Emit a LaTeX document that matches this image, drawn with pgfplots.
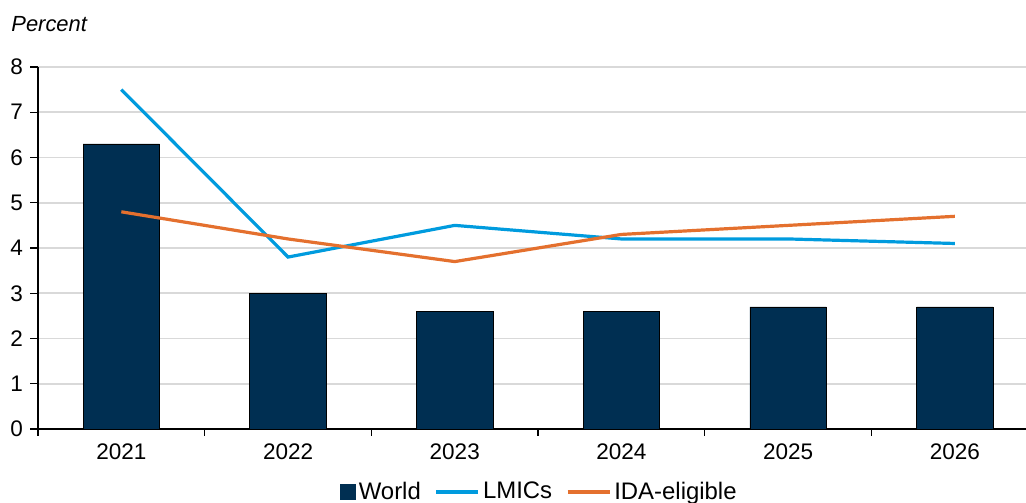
\documentclass[border=0pt]{standalone}
\usepackage{pgfplots}
\pgfplotsset{compat=1.18}
\usepackage{fontspec}
\setmainfont{Liberation Sans}
\definecolor{navy}{HTML}{002F52}
\definecolor{lblue}{HTML}{009BDE}
\definecolor{orng}{HTML}{E4702E}
\definecolor{gridg}{HTML}{D9D9D9}
\pgfplotsset{
  lineleg/.style={legend image code/.code={\draw[##1] (0bp,0bp) -- (21bp,0bp);}},
  barleg/.style={legend image code/.code={\fill[navy] (0bp,-3.6bp) rectangle (7.5bp,3.9bp);}},
}
\begin{document}
\begin{tikzpicture}[x=1bp,y=1bp]
\useasboundingbox (0,0) rectangle (513,251);
\node[anchor=base west, font=\fontsize{11}{13}\selectfont\itshape, inner sep=0] at (5.5,235.2) {Percent};
\begin{axis}[
  at={(19bp,36.5bp)}, anchor=south west,
  scale only axis, width=494bp, height=181bp,
  xmin=-0.5, xmax=5.427, ymin=0, ymax=8,
  axis lines*=left,
  axis line style={-, line width=0.6bp, black},
  tick align=outside,
  xtick={0,...,5},
  xticklabels={2021,2022,2023,2024,2025,2026},
  major x tick style={draw=none},
  minor xtick={-0.5,0.5,1.5,2.5,3.5,4.5},
  minor x tick style={black, line width=0.6bp},
  minor tick length=3.3bp,
  ytick={0,...,8},
  major tick length=4bp,
  y tick style={black, line width=0.6bp},
  ymajorgrids,
  grid style={gridg, line width=0.9bp},
  tick label style={font=\fontsize{11.3}{13}\selectfont},
  /pgf/number format/assume math mode=true,
  legend columns=3,
  legend style={at={(0.508,-0.174)}, anchor=center, draw=none, fill=none,
    font=\fontsize{12}{13}\selectfont, inner sep=0pt,
    nodes={inner sep=1.5bp},
    /tikz/every even column/.append style={column sep=5.5bp}},
]
\addplot[ybar, bar width=38.3bp, fill=navy, draw=black, line width=0.3bp, barleg]
  coordinates {(0,6.3) (1,3.0) (2,2.6) (3,2.6) (4,2.7) (5,2.7)};
\addlegendentry{World}
\addplot[sharp plot, lblue, line width=1.6bp, lineleg]
  coordinates {(0,7.5) (1,3.8) (2,4.5) (3,4.2) (4,4.2) (5,4.1)};
\addlegendentry{LMICs}
\addplot[sharp plot, orng, line width=1.6bp, lineleg]
  coordinates {(0,4.8) (1,4.2) (2,3.7) (3,4.3) (4,4.5) (5,4.7)};
\addlegendentry{IDA-eligible}
\end{axis}
\end{tikzpicture}
\end{document}
